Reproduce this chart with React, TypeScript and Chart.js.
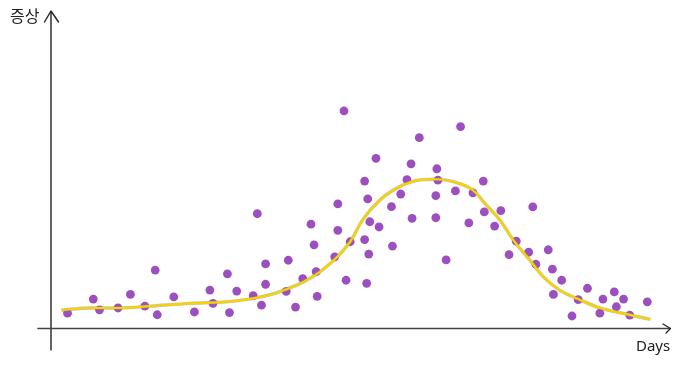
import React, { useEffect, useRef } from "react";
import { Chart, registerables } from "chart.js";

Chart.register(...registerables);

// Observed symptom scores by day (scatter)
const pointDays = [
  1.6, 4.1, 4.7, 6.5, 7.7, 9.1, 10.1, 10.3, 11.9, 13.9, 15.4, 15.7, 17.1, 17.3, 18.0, 19.6, 20.0, 20.4, 20.8, 20.8,
  22.8, 23.0, 23.7, 24.4, 25.2, 25.5, 25.7, 25.8, 27.5, 27.8, 27.8, 28.4, 28.6, 29.0, 30.4, 30.4, 30.7, 30.6, 30.8, 30.9,
  31.5, 31.8, 33.0, 33.1, 33.9, 34.5, 34.9, 35.0, 35.7, 37.3, 37.3, 37.4, 37.5, 38.3, 39.2, 39.7, 40.5, 40.9, 41.9, 42.0,
  43.0, 43.6, 44.4, 45.1, 46.3, 46.7, 47.0, 48.2, 48.6, 48.7, 49.5, 50.5, 51.1, 52.0, 53.2, 53.5, 54.6, 54.8, 55.5, 56.1,
  57.8,
];
const pointValues = [
  4.8, 9.4, 5.9, 6.5, 10.9, 7.1, 18.8, 4.3, 10.1, 5.2, 12.3, 8.0, 17.6, 5.0, 12.0, 10.5, 37.1, 7.4, 20.8, 14.2,
  11.9, 22.0, 6.8, 16.0, 33.7, 27.0, 18.3, 10.3, 23.1, 40.3, 31.7, 70.5, 15.5, 28.0, 28.7, 47.7, 41.9, 14.5, 24.0, 34.5,
  55.1, 32.8, 39.4, 26.6, 43.5, 48.2, 53.3, 35.6, 61.8, 35.8, 43.0, 51.7, 48.0, 22.1, 44.5, 65.4, 34.1, 43.9, 47.7, 37.7,
  33.1, 38.1, 23.8, 28.2, 24.6, 39.3, 20.7, 25.4, 19.1, 10.9, 15.5, 3.9, 9.2, 12.9, 4.8, 9.4, 11.7, 6.9, 9.4, 4.2,
  8.5,
];

// Fitted trend curve
const curveDays = [
  1.0, 3.8, 6.7, 9.6, 13.5, 17.0, 19.6, 22.2, 26.1, 29.0, 30.2, 31.9, 33.8, 35.8, 37.4, 39.0, 40.9, 42.2, 43.5, 44.8,
  46.4, 47.7, 49.3, 51.3, 53.2, 55.2, 58.1,
];
const curveValues = [
  5.8, 6.5, 6.5, 7.1, 8.0, 8.5, 9.6, 11.8, 18.3, 28.0, 35.1, 41.6, 45.9, 48.1, 48.3, 47.5, 44.8, 39.9, 35.1, 28.6,
  22.1, 16.7, 12.3, 9.1, 6.5, 4.9, 2.8,
];

const yLabel = "증상";
const xLabel = "Days";

const X_MAX = 60;
const Y_MAX = 100;

const axesPlugin = {
  id: "handAxes",
  beforeDatasetsDraw(chart: any) {
    const { ctx, chartArea, scales } = chart;
    const x0 = scales.x.getPixelForValue(0);
    const y0 = scales.y.getPixelForValue(0);
    ctx.save();
    ctx.lineCap = "round";
    ctx.lineJoin = "round";
    // y axis
    ctx.strokeStyle = "#222";
    ctx.lineWidth = 1.4;
    ctx.beginPath();
    ctx.moveTo(x0, y0 + 22);
    ctx.lineTo(x0, 12);
    ctx.stroke();
    ctx.beginPath();
    ctx.moveTo(x0 - 6.5, 22);
    ctx.lineTo(x0, 11);
    ctx.lineTo(x0 + 7.5, 22);
    ctx.stroke();
    // x axis
    ctx.strokeStyle = "#444";
    ctx.lineWidth = 1.6;
    ctx.beginPath();
    ctx.moveTo(x0 - 13, y0 + 0.5);
    ctx.lineTo(chartArea.right, y0 + 0.5);
    ctx.stroke();
    ctx.strokeStyle = "#222";
    ctx.lineWidth = 1.3;
    ctx.beginPath();
    ctx.moveTo(chartArea.right - 7, y0 - 4);
    ctx.lineTo(chartArea.right + 0.5, y0 + 0.5);
    ctx.lineTo(chartArea.right - 4, y0 + 5);
    ctx.stroke();
    // labels
    ctx.fillStyle = "#222";
    ctx.textBaseline = "top";
    ctx.textAlign = "left";
    ctx.font = "16px 'Noto Sans CJK KR', sans-serif";
    ctx.fillText(yLabel, 10, 8);
    ctx.font = "15px 'Noto Sans', sans-serif";
    ctx.fillText(xLabel, 636, 339);
    ctx.restore();
  },
};

export default function App() {
  const canvasRef = useRef<HTMLCanvasElement | null>(null);

  useEffect(() => {
    if (!canvasRef.current) return;
    const scatterData = pointDays.map((d, i) => ({ x: d, y: pointValues[i] }));
    const curveData = curveDays.map((d, i) => ({ x: d, y: curveValues[i] }));
    const chart = new Chart(canvasRef.current, {
      type: "scatter",
      data: {
        datasets: [
          {
            type: "line",
            data: curveData,
            borderColor: "#F7D300",
            borderWidth: 2.2,
            pointRadius: 0,
            tension: 0.4,
            cubicInterpolationMode: "monotone",
            fill: false,
            order: 0,
          } as any,
          {
            type: "line",
            data: curveData,
            borderColor: "rgba(160,150,100,0.55)",
            borderWidth: 3.4,
            pointRadius: 0,
            tension: 0.4,
            cubicInterpolationMode: "monotone",
            fill: false,
            order: 1,
          } as any,
          {
            type: "scatter",
            data: scatterData,
            backgroundColor: "#9C50BF",
            borderWidth: 0,
            pointRadius: 4.4,
            order: 2,
          },
        ],
      },
      options: {
        responsive: false,
        animation: false,
        maintainAspectRatio: false,
        layout: { padding: { left: 51, right: 22, top: 20, bottom: 48 } },
        plugins: { legend: { display: false }, tooltip: { enabled: false } },
        scales: {
          x: { type: "linear", min: 0, max: X_MAX, display: false },
          y: { type: "linear", min: 0, max: Y_MAX, display: false },
        },
      },
      plugins: [axesPlugin],
    });
    return () => chart.destroy();
  }, []);

  return (
    <div style={{ position: "fixed", left: 0, top: 0, width: 692, height: 376, background: "#fff" }}>
      <canvas ref={canvasRef} width={692} height={376} style={{ width: 692, height: 376 }} />
    </div>
  );
}
